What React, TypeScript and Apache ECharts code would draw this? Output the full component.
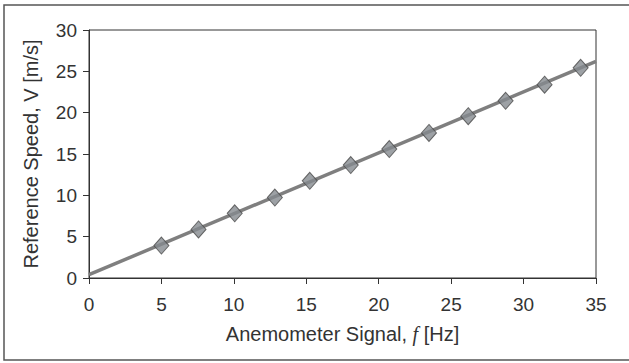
import React, { useEffect, useRef } from "react";
import * as echarts from "echarts";

const xTicks = [0, 5, 10, 15, 20, 25, 30, 35];
const yTicks = [0, 5, 10, 15, 20, 25, 30];
const signalHz = [5.0, 7.56, 10.06, 12.83, 15.24, 18.07, 20.73, 23.47, 26.18, 28.76, 31.45, 33.94];
const speedMs = [3.93, 5.88, 7.82, 9.73, 11.76, 13.66, 15.6, 17.55, 19.58, 21.44, 23.39, 25.42];
const trendX = [0, 35];
const trendY = [0.4, 26.2];

export default function App() {
  const ref = useRef<HTMLDivElement>(null);
  useEffect(() => {
    if (!ref.current) return;
    const chart = echarts.init(ref.current, undefined, { renderer: "svg" });
    const font = "'Liberation Sans', Arial, sans-serif";
    chart.setOption({
      animation: false,
      backgroundColor: "#ffffff",
      textStyle: { fontFamily: font },
      graphic: [
        {
          type: "rect",
          shape: { x: 4, y: 5, width: 700, height: 355 },
          style: { fill: "none", stroke: "#555", lineWidth: 1.5 },
          silent: true,
        },
      ],
      grid: {
        left: 89,
        right: 33,
        top: 30,
        bottom: 85,
        show: true,
        borderColor: "#333",
        borderWidth: 1,
        backgroundColor: "transparent",
      },
      xAxis: {
        type: "value",
        min: xTicks[0],
        max: xTicks[xTicks.length - 1],
        interval: 5,
        name: "{n|Anemometer Signal, }{i|f}{n| [Hz]}",
        nameLocation: "middle",
        nameGap: 46,
        nameTextStyle: {
          rich: {
            n: { fontSize: 20, color: "#333", fontFamily: font },
            i: { fontSize: 20, color: "#333", fontStyle: "italic", fontFamily: "'Liberation Serif', serif" },
          },
        },
        axisLine: { show: true, lineStyle: { color: "#333", width: 1 } },
        axisTick: { show: true, inside: false, length: 6, lineStyle: { color: "#333" } },
        axisLabel: { fontSize: 19, color: "#333", margin: 17, fontFamily: font },
        splitLine: { show: false },
      },
      yAxis: {
        type: "value",
        min: yTicks[0],
        max: yTicks[yTicks.length - 1],
        interval: 5,
        name: "Reference Speed, V [m/s]",
        nameLocation: "middle",
        nameRotate: 90,
        nameGap: 48,
        nameTextStyle: { fontSize: 20, color: "#333", fontFamily: font },
        axisLine: { show: true, lineStyle: { color: "#333", width: 1 } },
        axisTick: { show: true, inside: false, length: 6, lineStyle: { color: "#333" } },
        axisLabel: { fontSize: 19, color: "#333", margin: 12, fontFamily: font },
        splitLine: { show: false },
      },
      series: [
        {
          type: "line",
          data: trendX.map((x, i) => [x, trendY[i]]),
          showSymbol: false,
          symbol: "none",
          lineStyle: { color: "#7f7f7f", width: 3.5 },
          z: 2,
        },
        {
          type: "scatter",
          data: signalHz.map((x, i) => [x, speedMs[i]]),
          symbol: "diamond",
          symbolSize: [15, 17],
          itemStyle: { color: "#858a8e", borderColor: "#4a4a4a", borderWidth: 1 },
          z: 3,
        },
      ],
    });
    return () => chart.dispose();
  }, []);
  return (
    <div
      ref={ref}
      style={{ position: "fixed", left: 0, top: 0, width: 629, height: 363 }}
    />
  );
}
